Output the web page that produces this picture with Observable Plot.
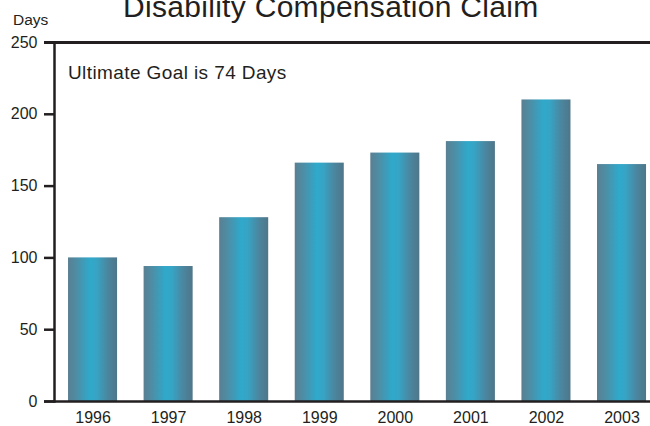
<!DOCTYPE html>
<html>
<head>
<meta charset="utf-8">
<script src="https://cdn.jsdelivr.net/npm/d3@7"></script>
<script src="https://cdn.jsdelivr.net/npm/@observablehq/plot@0.6"></script>
<style>
  html, body { margin: 0; padding: 0; background: #ffffff; }
  #chart { width: 650px; height: 426px; }
</style>
</head>
<body>
<div id="chart"></div>
<script>
// Average days to complete a disability compensation claim, by fiscal year
const years = ["1996", "1997", "1998", "1999", "2000", "2001", "2002", "2003"];
const days = [100, 94, 128, 166, 173, 181, 210, 165];
const yTicks = [0, 50, 100, 150, 200, 250];

const title = "Disability Compensation Claim";
const unitLabel = "Days";
const goalNote = "Ultimate Goal is 74 Days";

const rows = years.map((year, i) => ({year, days: days[i]}));
const ink = "#231f20";
const font = "'Liberation Sans', Arial, Helvetica, sans-serif";

const chart = Plot.plot({
  width: 650,
  height: 426,
  marginTop: 42,
  marginBottom: 25,
  marginLeft: 54,
  marginRight: 0,
  style: {fontFamily: font, fontSize: "16px", background: "#ffffff", color: ink},
  x: {domain: years, paddingInner: 0.351, paddingOuter: 0.119, align: 0.78, round: false, axis: null},
  y: {domain: [0, 250], axis: null},
  marks: [
    Plot.barY(rows, {x: "year", y: "days", fill: "url(#barShade)"}),
    Plot.ruleY([250], {stroke: ink, strokeWidth: 3, insetLeft: -10}),
    Plot.ruleY([0], {stroke: ink, strokeWidth: 2.5, insetLeft: -10}),
    Plot.frame({anchor: "left", stroke: ink, strokeWidth: 2.5}),
    Plot.axisY({ticks: yTicks, tickSize: 10, tickPadding: 7, fontSize: 16, stroke: ink, strokeWidth: 2.5, label: null, tickFormat: d => String(d)}),
    Plot.axisX({tickSize: 0, tickPadding: 10, fontSize: 16, label: null})
  ]
});

const svg = d3.select(chart);

// Cylinder-like horizontal shading shared by every bar
const grad = svg.insert("defs", ":first-child")
  .append("linearGradient")
  .attr("id", "barShade")
  .attr("x1", "0").attr("x2", "1").attr("y1", "0").attr("y2", "0");
[
  ["0%", "#5a7f92"],
  ["20%", "#4b90a8"],
  ["45%", "#2fa9cb"],
  ["58%", "#37a4c4"],
  ["80%", "#4a87a0"],
  ["100%", "#4f7689"]
].forEach(([offset, color]) => grad.append("stop").attr("offset", offset).attr("stop-color", color));

function addText(str, x, y, size, spacing) {
  svg.append("text")
    .attr("x", x).attr("y", y)
    .attr("text-anchor", "start")
    .attr("font-family", font).attr("font-size", size)
    .attr("letter-spacing", spacing)
    .attr("fill", ink)
    .text(str);
}

addText(title, 123, 17, 30, 0.3);
addText(unitLabel, 13, 25, 15.5, 0);
addText(goalNote, 68, 79, 19, 0.4);

document.getElementById("chart").appendChild(chart);
</script>
</body>
</html>
